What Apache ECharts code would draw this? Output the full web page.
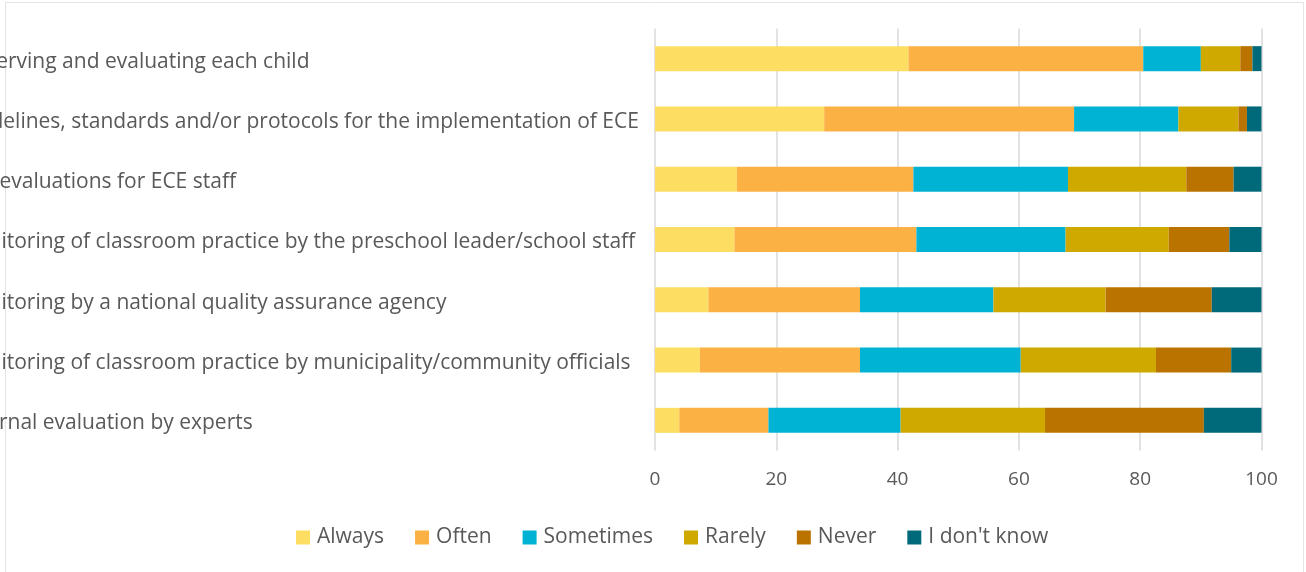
<!DOCTYPE html>
<html>
<head>
<meta charset="utf-8">
<script src="https://cdn.jsdelivr.net/npm/echarts@6/dist/echarts.min.js"></script>
<style>
  html, body { margin: 0; padding: 0; background: #ffffff; }
  #chart { width: 1306px; height: 572px; }
</style>
</head>
<body>
<div id="chart"></div>
<script>
// Quality monitoring practices in ECE: share of responses (%)
const categories = [
  "Observing and evaluating each child",
  "Guidelines, standards and/or protocols for the implementation of ECE",
  "Self-evaluations for ECE staff",
  "Monitoring of classroom practice by the preschool leader/school staff",
  "Monitoring by a national quality assurance agency",
  "Monitoring of classroom practice by municipality/community officials",
  "External evaluation by experts"
];

const seriesNames = ["Always", "Often", "Sometimes", "Rarely", "Never", "I don't know"];

const always    = [41.8, 27.9, 13.5, 13.1,  8.8,  7.4,  4.0];
const often     = [38.7, 41.2, 29.1, 30.0, 25.0, 26.4, 14.7];
const sometimes = [ 9.5, 17.2, 25.5, 24.6, 22.0, 26.5, 21.8];
const rarely    = [ 6.5,  9.9, 19.5, 17.0, 18.5, 22.3, 23.8];
const never     = [ 2.0,  1.4,  7.8, 10.0, 17.5, 12.4, 26.2];
const dontKnow  = [ 1.5,  2.4,  4.6,  5.3,  8.2,  5.0,  9.5];

const xTicks = [0, 20, 40, 60, 80, 100];

const colors = ["#FDDE62", "#FBB143", "#00B3D4", "#CFA900", "#BB7300", "#006A7B"];
const values = [always, often, sometimes, rarely, never, dontKnow];

const FONT = "'Open Sans', Lato, sans-serif";
const GRID_LEFT = 655;
const LABEL_START = -43; // category labels are left-aligned and run off the left edge

const chart = echarts.init(document.getElementById("chart"), null, { renderer: "canvas" });

chart.setOption({
  backgroundColor: "#ffffff",
  animation: false,
  color: colors,
  textStyle: { fontFamily: FONT },
  graphic: [{
    type: "rect",
    z: -10,
    silent: true,
    shape: { x: 5.5, y: 2.5, width: 1298, height: 600 },
    style: { fill: "none", stroke: "#e4e4e4", lineWidth: 1 }
  }],
  grid: {
    left: GRID_LEFT, right: 44.5, top: 28.5, bottom: 121.5,
    containLabel: false,
    outerBoundsMode: "none"
  },
  legend: {
    top: 522,
    left: 291,
    itemWidth: 14,
    itemHeight: 14,
    itemGap: 31,
    icon: "rect",
    textStyle: { fontFamily: FONT, fontSize: 21, color: "#595959", padding: [0, 0, 0, 2] },
    data: seriesNames
  },
  xAxis: {
    type: "value",
    min: xTicks[0],
    max: xTicks[xTicks.length - 1],
    interval: xTicks[1] - xTicks[0],
    axisLine: { show: false },
    axisTick: { show: false },
    splitLine: { show: true, lineStyle: { color: "#d9d9d9", width: 1.5 } },
    axisLabel: {
      margin: 20,
      fontFamily: FONT,
      fontSize: 19,
      color: "#595959",
      formatter: v => (xTicks.includes(v) ? String(v) : "")
    }
  },
  yAxis: {
    type: "category",
    inverse: true,
    data: categories,
    axisLine: { show: false },
    axisTick: { show: false },
    splitLine: { show: false },
    axisLabel: {
      interval: 0,
      align: "left",
      verticalAlign: "top",
      lineHeight: 24,
      margin: GRID_LEFT - LABEL_START,
      padding: [-9, 0, 0, 0],
      fontFamily: FONT,
      fontSize: 21,
      color: "#595959"
    }
  },
  series: seriesNames.map((name, i) => ({
    name: name,
    type: "bar",
    stack: "total",
    barWidth: 25,
    data: values[i],
    itemStyle: { color: colors[i] }
  }))
});
</script>
</body>
</html>
